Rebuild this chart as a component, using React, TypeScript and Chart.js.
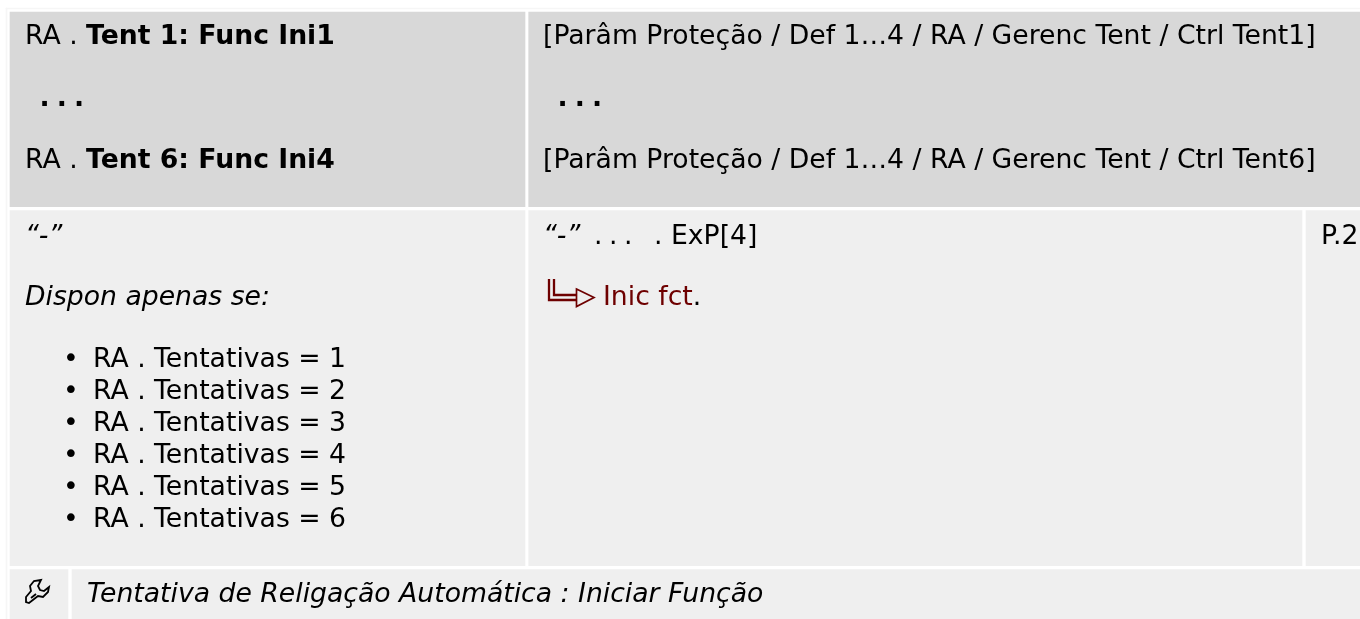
import React, { useEffect, useRef } from "react";
import { Chart, registerables } from "chart.js";

Chart.register(...registerables);

const WIDTH = 1360;
const HEIGHT = 619;
const FONT = '"DejaVu Sans"';
const SIZE = 26.67;

const HEADER_FILL = "#d8d8d8";
const BODY_FILL = "#efefef";
const FRAME_FILL = "#f6f6f6";
const LINK_RED = "#6e0000";

// table cells: [left, right, top, bottom]
const headerCells = [
  [10, 525, 12, 206.7],
  [528.7, 1360, 12, 206.7],
];
const bodyCells = [
  [10, 525, 210.7, 565.7],
  [528.7, 1302, 210.7, 565.7],
  [1306, 1360, 210.7, 565.7],
  [10, 68, 569.7, 619],
  [72, 1360, 569.7, 619],
];
const frameCells = [
  [6, 7, 8, 619],
  [6, 1360, 8, 9],
];

type Seg = { t: string; w?: string; s?: string; c?: string; z?: number };
type Line = { x: number; y: number; segs: Seg[] };

const headerLines: Line[] = [
  { x: 25, y: 44, segs: [{ t: "RA . " }, { t: "Tent 1: Func Ini1", w: "bold" }] },
  { x: 39.5, y: 106, segs: [{ t: ".", w: "bold" }] },
  { x: 56.7, y: 106, segs: [{ t: ".", w: "bold" }] },
  { x: 74, y: 106, segs: [{ t: ".", w: "bold" }] },
  { x: 25, y: 168, segs: [{ t: "RA . " }, { t: "Tent 6: Func Ini4", w: "bold" }] },
  { x: 543, y: 44, segs: [{ t: "[Parâm Proteção / Def 1…4 / RA / Gerenc Tent / Ctrl Tent1]" }] },
  { x: 557.5, y: 106, segs: [{ t: ".", w: "bold" }] },
  { x: 574.7, y: 106, segs: [{ t: ".", w: "bold" }] },
  { x: 592, y: 106, segs: [{ t: ".", w: "bold" }] },
  { x: 543, y: 168, segs: [{ t: "[Parâm Proteção / Def 1…4 / RA / Gerenc Tent / Ctrl Tent6]" }] },
];
const bodyLines: Line[] = [
  { x: 25, y: 243.5, segs: [{ t: "“-”", s: "italic" }] },
  { x: 25, y: 305, segs: [{ t: "Dispon apenas se:", s: "italic" }] },
  { x: 543, y: 243.5, segs: [{ t: "“-”", s: "italic" }] },
  { x: 594, y: 243.5, segs: [{ t: "." }] },
  { x: 609, y: 243.5, segs: [{ t: "." }] },
  { x: 624, y: 243.5, segs: [{ t: "." }] },
  { x: 654, y: 243.5, segs: [{ t: ". ExP[4]" }] },
  { x: 603, y: 305, segs: [{ t: "Inic fct", c: LINK_RED }, { t: "." }] },
  { x: 1321, y: 243.5, segs: [{ t: "P.2" }] },
  { x: 87, y: 602, segs: [{ t: "Tentativa de Religação Automática : Iniciar Função", s: "italic" }] },
];
const bulletItems = [
  "RA . Tentativas = 1",
  "RA . Tentativas = 2",
  "RA . Tentativas = 3",
  "RA . Tentativas = 4",
  "RA . Tentativas = 5",
  "RA . Tentativas = 6",
];
const bulletBaselines = [367, 399, 431, 463, 495, 527];

const cellDataset = (cell: number[], fill: string) => ({
  data: [{ x: (cell[0] + cell[1]) / 2, y: [cell[2], cell[3]] }],
  barThickness: cell[1] - cell[0],
  grouped: false,
  backgroundColor: fill,
  borderWidth: 0,
});

const drawLine = (ctx: CanvasRenderingContext2D, line: Line, sx: any, sy: any) => {
  let x = sx.getPixelForValue(line.x);
  const y = sy.getPixelForValue(line.y);
  for (const seg of line.segs) {
    ctx.font = `${seg.s ?? "normal"} ${seg.w ?? "normal"} ${seg.z ?? SIZE}px ${FONT}`;
    ctx.fillStyle = seg.c ?? "#000000";
    ctx.fillText(seg.t, x, y);
    x += ctx.measureText(seg.t).width;
  }
};

const tablePlugin = {
  id: "tableText",
  afterDatasetsDraw(chart: any) {
    const { ctx, scales } = chart;
    const sx = scales.x;
    const sy = scales.y;
    ctx.save();
    ctx.textBaseline = "alphabetic";
    ctx.textAlign = "left";
    [...headerLines, ...bodyLines].forEach((l) => drawLine(ctx, l, sx, sy));
    bulletItems.forEach((t, i) => {
      drawLine(ctx, { x: 63, y: bulletBaselines[i], segs: [{ t: "•" }] }, sx, sy);
      drawLine(ctx, { x: 93, y: bulletBaselines[i], segs: [{ t }] }, sx, sy);
    });

    // reference arrow symbol
    ctx.strokeStyle = LINK_RED;
    ctx.lineWidth = 2.3;
    ctx.lineJoin = "miter";
    const P = (x: number, y: number): [number, number] => [sx.getPixelForValue(x), sy.getPixelForValue(y)];
    const poly = (pts: [number, number][], close = false) => {
      ctx.beginPath();
      pts.forEach((p, i) => (i ? ctx.lineTo(...P(...p)) : ctx.moveTo(...P(...p))));
      if (close) ctx.closePath();
      ctx.stroke();
    };
    poly([[549, 279], [549, 300], [577, 300]]);
    poly([[554, 279], [554, 295], [577, 295]]);
    ctx.lineWidth = 1.7;
    poly([[576.5, 289], [594, 297.5], [576.5, 306.5]], true);

    // wrench symbol
    ctx.strokeStyle = "#000000";
    ctx.lineWidth = 1.8;
    poly([
      [41, 580], [34, 581], [30, 586], [31, 591], [26, 597], [26, 602], [29, 603],
      [38, 596], [43, 597], [48, 592], [49, 587], [44, 591], [40, 590], [38, 586],
    ], true);
    poly([[31, 598], [36, 594]]);
    ctx.restore();
  },
};

export default function App() {
  const ref = useRef<HTMLCanvasElement>(null);
  useEffect(() => {
    const chart = new Chart(ref.current!, {
      type: "bar",
      data: {
        datasets: [
          ...frameCells.map((c) => cellDataset(c, FRAME_FILL)),
          ...headerCells.map((c) => cellDataset(c, HEADER_FILL)),
          ...bodyCells.map((c) => cellDataset(c, BODY_FILL)),
        ] as any,
      },
      options: {
        animation: false,
        responsive: false,
        layout: { padding: 0 },
        plugins: { legend: { display: false }, tooltip: { enabled: false }, title: { display: false } },
        scales: {
          x: { type: "linear", min: 0, max: WIDTH, display: false, offset: false },
          y: { type: "linear", min: 0, max: HEIGHT, reverse: true, display: false },
        },
      } as any,
      plugins: [tablePlugin],
    });
    return () => chart.destroy();
  }, []);
  return (
    <canvas
      ref={ref}
      width={WIDTH}
      height={HEIGHT}
      style={{ position: "fixed", left: 0, top: 0, display: "block", background: "#ffffff" }}
    />
  );
}
